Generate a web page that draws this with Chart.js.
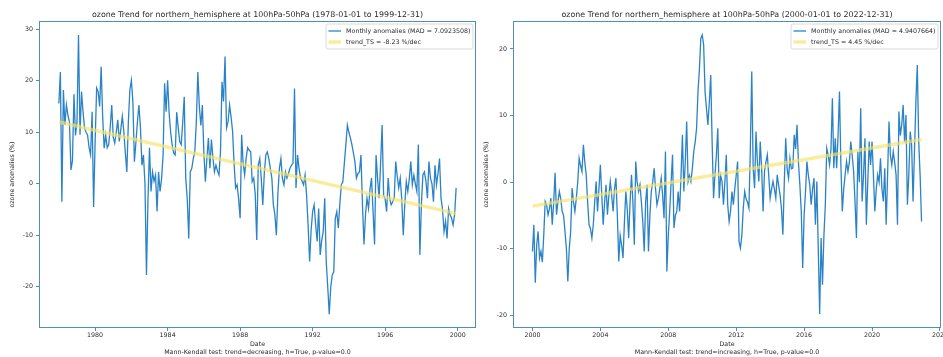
<!DOCTYPE html>
<html>
<head>
<meta charset="utf-8">
<script src="https://cdn.jsdelivr.net/npm/chart.js@4.4.0/dist/chart.umd.min.js"></script>
<style>
  html, body { margin: 0; padding: 0; background: #fff; overflow: hidden; }
  #wrap { position: relative; width: 943px; height: 357px; }
  canvas { position: absolute; top: 0; }
  #c1 { left: 0; }
  #c2 { left: 480px; }
</style>
</head>
<body>
<div id="wrap">
  <canvas id="c1" width="480" height="357"></canvas>
  <canvas id="c2" width="463" height="357"></canvas>
</div>
<script>
// monthly ozone anomalies (%), 1978-01 .. 1999-12
const anomalies7899 = [
  15.6, 21.7, -3.5, 18.2, 11.4, 15.3, 13.3, 12.0, 2.7, 4.5, 17.4, 9.4,
  12.0, 28.9, 9.5, 17.9, 14.0, 10.8, 10.0, 9.5, 7.0, 5.6, 14.0, -4.5,
  8.0, 18.6, 17.9, 15.0, 22.7, 13.0, 6.9, 9.5, 7.0, 7.6, 11.0, 15.3,
  9.0, 7.9, 10.0, 12.4, 8.2, 10.5, 13.1, 10.2, 6.0, 2.3, 12.0, 18.2,
  20.1, 16.0, 4.3, 8.0, 12.0, 15.3, 11.0, 3.6, 5.6, 0.0, -17.7, -3.0,
  7.0, -1.5, 2.3, 0.5, 1.7, -5.4, 2.3, -1.5, 1.0, 5.6, 19.5, 14.0,
  20.1, 13.7, 10.0, 7.6, 6.0, 5.6, 13.9, 11.0, 8.2, 7.6, 12.0, 16.9,
  1.1, -3.0, -10.6, 2.3, 3.0, 4.9, 6.2, 12.0, 21.7, 15.0, 11.3, 15.3,
  6.0, 0.4, 5.0, 8.9, 3.0, 8.6, 5.0, 2.3, 3.6, 2.5, 1.7, 6.2,
  19.8, 16.0, 24.7, 10.8, 12.0, 15.3, 13.0, 10.2, 4.0, -0.8, -0.2, -3.0,
  -6.7, 9.5, 4.0, 1.7, 5.0, 7.0, 6.5, 6.2, 0.4, 1.1, -2.0, -10.9,
  3.6, 4.9, 1.0, -4.1, 2.0, 5.6, 6.2, 4.9, 3.0, 1.1, -4.1, -6.0,
  -10.0, -2.0, 3.0, 4.9, 1.0, -0.2, 2.3, 1.1, 2.0, 3.0, 3.6, 4.0,
  18.5, -0.8, 5.6, 3.0, 1.1, 0.5, -0.2, 1.7, -2.2, -8.0, -15.1, -9.0,
  -5.4, -4.1, -8.0, -11.2, -4.8, -13.8, -11.0, -9.3, -2.8, -15.1, -20.0, -25.3,
  -20.0, -17.7, -17.1, -6.7, -5.4, -8.6, -4.0, -0.2, 0.4, 4.0, 7.6, 11.4,
  10.0, 8.9, 7.6, 6.0, 4.3, 1.1, 2.0, 2.3, 5.6, -4.1, -11.8, -6.0,
  -2.8, -4.8, -1.0, 1.1, -5.4, -11.8, 5.6, 1.0, -2.8, 4.0, 11.4, -2.2,
  -3.0, -5.4, 1.1, -2.8, -4.1, -3.5, -2.8, 4.3, 1.5, -0.8, 1.1, -3.0,
  -10.0, -4.0, 0.4, -1.5, 1.0, 4.3, -0.2, 1.7, 0.0, -1.5, 7.6, -13.8,
  -4.0, 1.7, 2.3, 0.5, -2.8, 4.3, 1.1, 0.0, -3.5, 3.6, -0.2, 2.0,
  4.9, -2.8, -5.0, -9.3, -7.3, -10.6, -4.8, -6.0, -6.7, -8.0, -6.0, -0.8
];

// monthly ozone anomalies (%), 2000-01 .. 2022-12
const anomalies0022 = [
  -10.4, -6.4, -15.1, -9.4, -7.4, -11.4, -10.4, -12.0, -7.9, -2.9, -3.4, -4.9,
  -4.0, -2.4, -6.4, -3.0, 1.4, -4.9, -3.0, -1.4, -2.5, -4.4, -5.0, -7.4,
  -10.0, -14.9, -10.0, -7.4, -0.9, -3.0, -4.4, -2.4, 0.0, 3.6, 2.5, 1.6,
  5.6, 3.0, 1.1, -3.0, -6.4, -7.0, -8.4, -6.4, -3.0, 0.1, -4.4, -1.0,
  2.6, -2.0, -6.4, -3.0, -0.4, -4.9, -2.0, 0.1, -2.0, -4.4, -1.0, 0.6,
  -5.0, -11.9, -8.0, -9.4, -11.4, -6.0, -1.4, -4.0, -8.4, -3.0, 1.1, -3.0,
  -9.4, 3.1, 0.0, -1.4, -0.4, -3.0, -6.0, -10.4, -3.0, -0.4, -10.4, -5.0,
  -1.4, 0.0, 2.1, -1.0, -3.4, -2.4, -1.0, 0.6, -2.0, -5.4, 4.6, -13.4,
  -8.0, -4.4, 0.0, 4.1, -6.9, -5.0, -4.4, -1.4, -4.4, 1.0, 7.1, -1.4,
  3.0, 9.1, 0.1, 1.0, 0.1, 2.0, 4.6, 6.0, 8.1, 13.6, 17.0, 21.6,
  22.1, 20.6, 13.6, 11.0, 8.6, 12.0, 16.1, 6.0, -2.4, 1.1, 4.0, 8.1,
  -2.4, 1.0, 0.1, -3.4, 0.0, 4.1, -3.4, -5.9, -4.4, -1.4, -3.4, -1.0,
  1.0, 3.1, -8.9, -9.9, -8.0, -3.9, -1.4, -2.5, -3.0, -3.9, 5.0, 16.6,
  2.0, -0.9, 7.6, 3.0, 0.1, 6.1, 2.0, -4.4, 1.6, 3.0, 4.1, 1.0,
  -2.4, -1.0, 0.1, -1.0, -2.4, 1.1, -0.5, -1.9, -4.0, -7.9, 0.0, 6.6,
  2.0, 0.6, 3.6, 2.0, 2.1, 7.1, 5.0, 8.6, 3.0, -0.4, -4.4, -12.9,
  -5.0, -1.4, 3.1, 1.0, -0.4, -3.4, -1.0, 0.6, -6.4, 0.1, -10.0, -19.8,
  -8.4, -15.4, -8.0, -3.4, 5.1, 4.1, 2.6, 5.0, 12.6, 2.1, 6.6, 2.1,
  7.0, 13.6, 2.6, -4.4, -1.0, 1.1, 3.1, 1.6, 3.0, 6.1, 4.0, 1.6,
  -3.0, -8.4, 4.6, 0.0, 11.1, -2.9, 1.0, 6.6, -6.4, 0.0, 6.1, 2.6,
  6.1, 1.0, -4.4, -1.0, 1.1, 0.0, 3.6, -1.0, -2.9, 2.1, -6.4, 1.0,
  9.1, 4.0, 2.6, 4.6, 3.0, 1.1, -6.4, 10.6, 7.0, 8.6, 11.6, 6.0,
  10.1, -3.4, 1.0, 7.6, 5.6, -2.9, 4.6, 12.0, 17.6, 6.1, 1.0, -5.9
];

// Theil-Sen trend line, value at first and last month
const trend7899 = [12.0, -5.8];
const trend0022 = [-3.6, 6.4];

const xTicks7899 = [1980, 1984, 1988, 1992, 1996, 2000];
const xTicks0022 = [2000, 2004, 2008, 2012, 2016, 2020, 2024];
const yTicks7899 = [-20, -10, 0, 10, 20, 30];
const yTicks0022 = [-20, -10, 0, 10, 20];

const FONT = "'DejaVu Sans', sans-serif";
const TEXT = '#2a2a2a';
const FRAME = '#4f8dbb';

function monthly(startYear, values) {
    return values.map((v, i) => ({ x: startYear + i / 12, y: v }));
}

function trendLine(startYear, values, ends) {
    const last = startYear + (values.length - 1) / 12;
    return [{ x: startYear, y: ends[0] }, { x: last, y: ends[1] }];
}

const decorPlugin = {
    id: 'decor',
    afterDraw(chart, args, opts) {
        const ctx = chart.ctx;
        const a = chart.chartArea;
        ctx.save();

        ctx.strokeStyle = FRAME;
        ctx.lineWidth = 1;
        ctx.strokeRect(a.left + 0.5, a.top + 0.5, a.right - a.left - 1, a.bottom - a.top - 1);

        ctx.fillStyle = TEXT;
        ctx.font = '7.9px ' + FONT;
        ctx.textAlign = 'center';
        ctx.textBaseline = 'middle';
        ctx.fillText(opts.title, (a.left + a.right) / 2, a.top - 6);

        // legend in the upper right corner
        ctx.font = '6.3px ' + FONT;
        const items = chart.data.datasets;
        const textW = Math.max(...items.map(d => ctx.measureText(d.label).width));
        const pad = 2.5, handle = 12.6, gap = 5, rowH = 11;
        const w = pad + handle + gap + textW + pad;
        const right = a.right - 3, top = a.top + 3, left = right - w;
        ctx.fillStyle = 'rgba(255,255,255,0.8)';
        ctx.strokeStyle = '#d9d9d9';
        ctx.lineWidth = 1;
        ctx.beginPath();
        ctx.roundRect(left, top, w, 25, 2);
        ctx.fill();
        ctx.stroke();
        items.forEach((d, i) => {
            const y = top + 7 + i * rowH;
            ctx.strokeStyle = d.borderColor;
            ctx.lineWidth = d.borderWidth;
            ctx.beginPath();
            ctx.moveTo(left + pad, y);
            ctx.lineTo(left + pad + handle, y);
            ctx.stroke();
            ctx.fillStyle = TEXT;
            ctx.textAlign = 'left';
            ctx.fillText(d.label, left + pad + handle + gap, y);
        });
        ctx.restore();
    }
};

function makeChart(id, cfg) {
    const tickFont = { family: FONT, size: 6.3 };
    return new Chart(document.getElementById(id), {
        type: 'line',
        data: {
            datasets: [{
                label: cfg.mainLabel,
                data: cfg.points,
                borderColor: '#2b83c6',
                borderWidth: 1.3,
                pointRadius: 0,
                tension: 0,
                order: 1
            }, {
                label: cfg.trendLabel,
                data: cfg.trend,
                borderColor: 'rgba(246, 228, 105, 0.65)',
                borderWidth: 3.5,
                pointRadius: 0,
                order: 0
            }]
        },
        options: {
            responsive: false,
            animation: false,
            devicePixelRatio: 1,
            parsing: false,
            layout: { padding: { left: 0, right: cfg.padRight, top: 21, bottom: 0 } },
            plugins: {
                legend: { display: false },
                tooltip: { enabled: false },
                decor: { title: cfg.title }
            },
            scales: {
                x: {
                    type: 'linear',
                    min: cfg.xMin,
                    max: cfg.xMax,
                    afterBuildTicks: s => { s.ticks = cfg.xTicks.map(v => ({ value: v })); },
                    afterFit: s => { s.height = 29; s.paddingLeft = 0; s.paddingRight = 0; },
                    border: { display: false },
                    grid: { drawOnChartArea: false, drawTicks: true, tickLength: 3, tickColor: FRAME },
                    ticks: {
                        font: tickFont, color: TEXT, padding: 1,
                        maxRotation: 0, autoSkip: false,
                        callback: v => String(v)
                    },
                    title: {
                        display: true,
                        text: ['Date', cfg.mkText],
                        font: { family: FONT, size: 6.3, lineHeight: 1.27 },
                        color: TEXT,
                        padding: { top: 0, bottom: 1 }
                    }
                },
                y: {
                    min: cfg.yMin,
                    max: cfg.yMax,
                    afterBuildTicks: s => { s.ticks = cfg.yTicks.map(v => ({ value: v })); },
                    afterFit: s => { s.width = cfg.yWidth; s.paddingTop = 0; s.paddingBottom = 0; },
                    border: { display: false },
                    grid: { drawOnChartArea: false, drawTicks: true, tickLength: 3, tickColor: FRAME },
                    ticks: { font: tickFont, color: TEXT, padding: 3, autoSkip: false, callback: v => String(v) },
                    title: {
                        display: true,
                        text: 'ozone anomalies (%)',
                        font: { family: FONT, size: 6.3, lineHeight: 1.2 },
                        color: TEXT,
                        padding: { top: cfg.yTitlePad, bottom: 0 }
                    }
                }
            }
        },
        plugins: [decorPlugin]
    });
}

makeChart('c1', {
    title: 'ozone Trend for northern_hemisphere at 100hPa-50hPa (1978-01-01 to 1999-12-31)',
    mainLabel: 'Monthly anomalies (MAD = 7.0923508)',
    trendLabel: 'trend_TS = -8.23 %/dec',
    mkText: 'Mann-Kendall test: trend=decreasing, h=True, p-value=0.0',
    points: monthly(1978, anomalies7899),
    trend: trendLine(1978, anomalies7899, trend7899),
    xTicks: xTicks7899, yTicks: yTicks7899,
    xMin: 1976.904, xMax: 2001.013,
    yMin: -28.0, yMax: 31.6,
    yWidth: 39, padRight: 4, yTitlePad: 9
});

makeChart('c2', {
    title: 'ozone Trend for northern_hemisphere at 100hPa-50hPa (2000-01-01 to 2022-12-31)',
    mainLabel: 'Monthly anomalies (MAD = 4.9407664)',
    trendLabel: 'trend_TS = 4.45 %/dec',
    mkText: 'Mann-Kendall test: trend=increasing, h=True, p-value=0.0',
    points: monthly(2000, anomalies0022),
    trend: trendLine(2000, anomalies0022, trend0022),
    xTicks: xTicks0022, yTicks: yTicks0022,
    xMin: 1998.854, xMax: 2024.063,
    yMin: -21.9, yMax: 24.2,
    yWidth: 33, padRight: 2, yTitlePad: 3
});
</script>
</body>
</html>
